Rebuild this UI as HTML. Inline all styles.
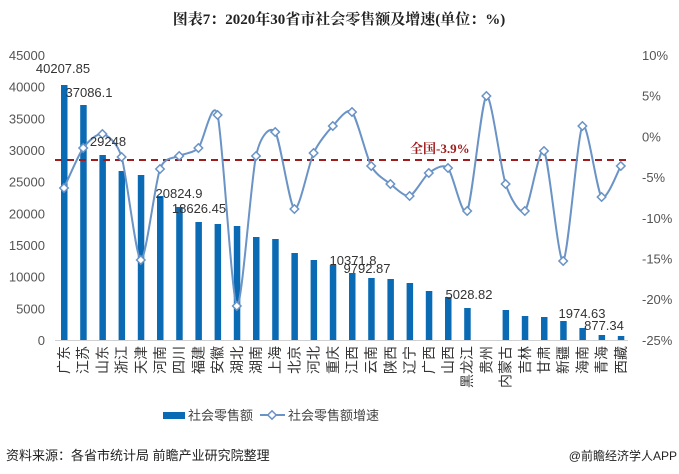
<!DOCTYPE html>
<html><head><meta charset="utf-8">
<style>
html,body{margin:0;padding:0;background:#fff;}
body{width:679px;height:474px;overflow:hidden;position:relative;font-family:"Liberation Sans","Noto Sans CJK SC",sans-serif;}
svg{position:absolute;left:0;top:0;}
</style></head><body>
<svg id="s" width="679" height="474" xmlns="http://www.w3.org/2000/svg" font-family="Liberation Sans, Noto Sans CJK SC, sans-serif">
<text x="339" y="24" text-anchor="middle" font-size="15" font-weight="bold" font-family="Liberation Serif, Noto Serif CJK SC, serif" fill="#222">图表7：2020年30省市社会零售额及增速(单位：%)</text>
<g id="g"></g>
<text x="188" y="420" font-size="13" fill="#444">社会零售额</text>
<rect x="163" y="412" width="22" height="7" fill="#0a6ab4"/>
<line x1="260" y1="415" x2="285" y2="415" stroke="#6a93c6" stroke-width="2"/>
<rect x="269" y="412" width="6" height="6" transform="rotate(45 272 415)" fill="#fff" stroke="#6a93c6" stroke-width="1.5"/>
<text x="288" y="420" font-size="13" fill="#444">社会零售额增速</text>
<text x="6" y="460" font-size="13" fill="#222">资料来源：各省市统计局 前瞻产业研究院整理</text>
<text x="677" y="460" text-anchor="end" font-size="12" fill="#222">@前瞻经济学人APP</text>
</svg>
<script>
var g=document.getElementById('g'),h='';
var names=['广东','江苏','山东','浙江','天津','河南','四川','福建','安徽','湖北','湖南','上海','北京','河北','重庆','江西','云南','陕西','辽宁','广西','山西','黑龙江','贵州','内蒙古','吉林','甘肃','新疆','海南','青海','西藏'];
var bars=[85,105,155,171,175,196,207,222,224,226,237,239,253,260,265,273,278,279,283,291,297,308,340,310,316,317,321,328,335,336];
var ly=[188,148,134,157,260,169,156,148,115,306,156,132,209,153,126,112,166,184,196,173,168,211,96,184,211,151,261,126,197,166];
function X(i){return 64+i*19.2;}
for(var k=0;k<=9;k++){var y=340-k*31.67;h+='<text x="45" y="'+(y+5)+'" text-anchor="end" font-size="13" fill="#555">'+(k*5000)+'</text>';}
var rl=['10%','5%','0%','-5%','-10%','-15%','-20%','-25%'];
for(var k=0;k<8;k++){var y=55+k*40.7;h+='<text x="642" y="'+(y+5)+'" font-size="13" fill="#555">'+rl[k]+'</text>';}
h+='<line x1="55" y1="340.5" x2="628" y2="340.5" stroke="#d0d0d0"/>';
for(var i=0;i<30;i++){if(bars[i]<340)h+='<rect x="'+(X(i)-3)+'" y="'+bars[i]+'" width="6.5" height="'+(340-bars[i])+'" fill="#0a6ab4"/>';
 var tx=X(i)+5;h+='<text x="0" y="0" transform="translate('+tx+',346) rotate(-90)" text-anchor="end" font-size="14" fill="#333">'+names[i]+'</text>';}
h+='<line x1="55" y1="160" x2="628" y2="160" stroke="#a01c1c" stroke-width="2" stroke-dasharray="7,5"/>';
h+='<text x="410" y="153" font-size="13" font-weight="bold" font-family="Liberation Serif, Noto Serif CJK SC, serif" fill="#a01c1c">全国-3.9%</text>';
var d='M'+X(0)+','+ly[0];
for(var i=0;i<29;i++){var p0=[X(Math.max(i-1,0)),ly[Math.max(i-1,0)]],p1=[X(i),ly[i]],p2=[X(i+1),ly[i+1]],p3=[X(Math.min(i+2,29)),ly[Math.min(i+2,29)]];
 var t=8;var c1=[p1[0]+(p2[0]-p0[0])/t,p1[1]+(p2[1]-p0[1])/t],c2=[p2[0]-(p3[0]-p1[0])/t,p2[1]-(p3[1]-p1[1])/t];
 d+=' C'+c1[0]+','+c1[1]+' '+c2[0]+','+c2[1]+' '+p2[0]+','+p2[1];}
h+='<path d="'+d+'" fill="none" stroke="#6a93c6" stroke-width="2"/>';
for(var i=0;i<30;i++)h+='<rect x="'+(X(i)-3)+'" y="'+(ly[i]-3)+'" width="6" height="6" transform="rotate(45 '+X(i)+' '+ly[i]+')" fill="#fff" stroke="#6a93c6" stroke-width="1.5"/>';
var labs=[['40207.85',63,73],['37086.1',89,97],['29248',108,146],['20824.9',179,198],['18626.45',199,213],['10371.8',353,265],['9792.87',367,273],['5028.82',469,299],['1974.63',582,318],['877.34',604,330]];
labs.forEach(function(l){h+='<text x="'+l[1]+'" y="'+l[2]+'" text-anchor="middle" font-size="13" fill="#333">'+l[0]+'</text>';});
g.innerHTML=h;
</script>
</body></html>
